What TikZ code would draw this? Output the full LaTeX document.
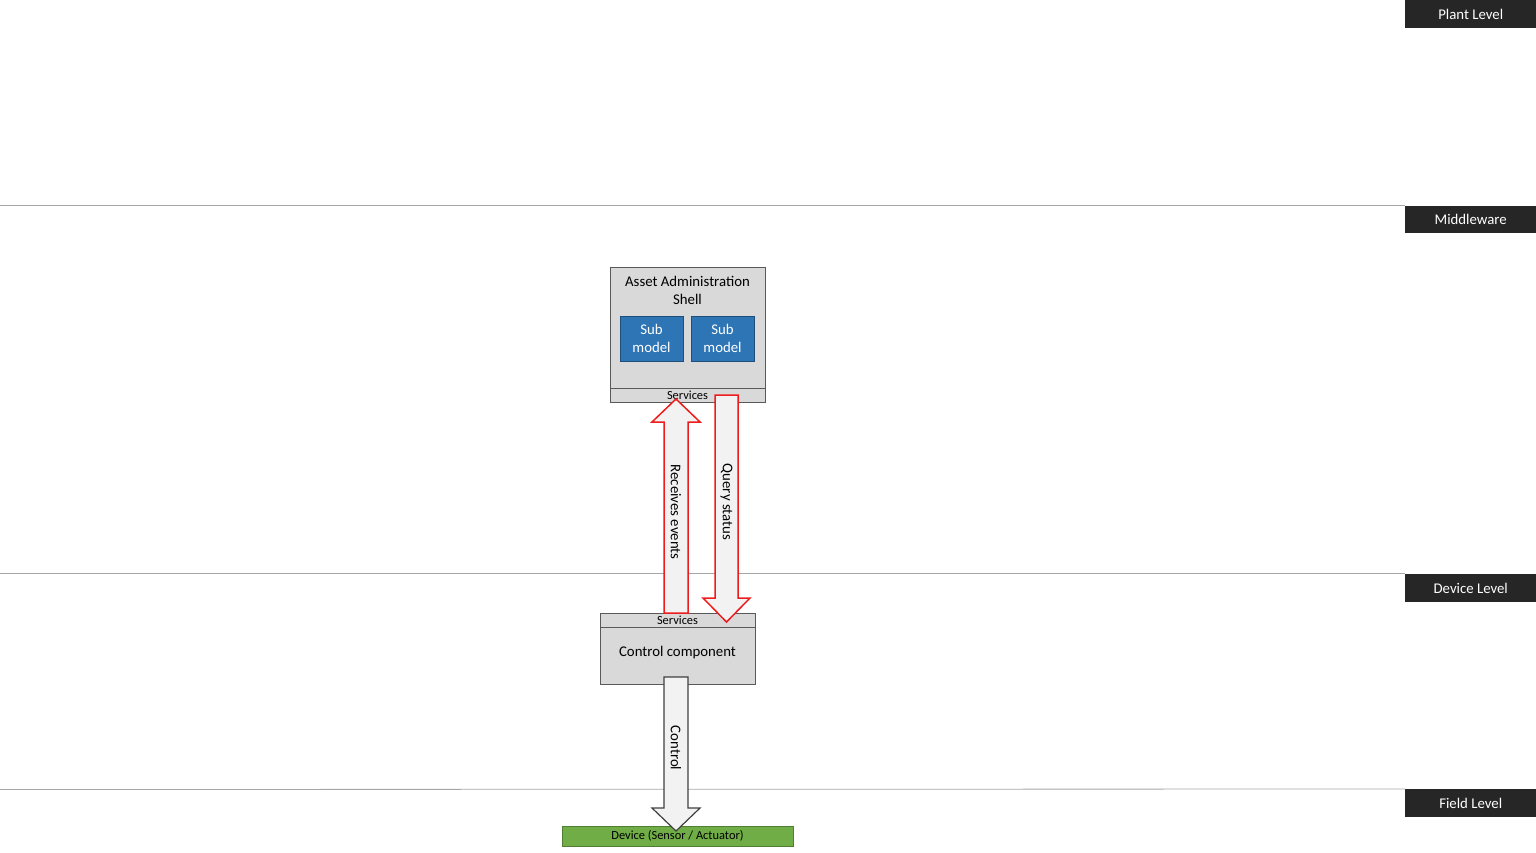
\documentclass[tikz,border=0pt]{standalone}
\usepackage{fontspec}
\setmainfont{Carlito}
\definecolor{lvl}{HTML}{262626}
\definecolor{sep}{HTML}{A6A6A6}
\definecolor{boxfill}{HTML}{D9D9D9}
\definecolor{boxline}{HTML}{595959}
\definecolor{subfill}{HTML}{2E75B6}
\definecolor{subline}{HTML}{1F4E79}
\definecolor{devfill}{HTML}{70AD47}
\definecolor{devline}{HTML}{507E32}
\definecolor{arrfill}{HTML}{F2F2F2}
\definecolor{arrred}{HTML}{EE1C1C}
\definecolor{arrgray}{HTML}{404040}
\tikzset{
  lvlbox/.style={fill=lvl, text=white, inner sep=0pt, minimum width=131pt, minimum height=27.5pt, font=\fontsize{14.8}{17}\selectfont},
  sepline/.style={draw=sep, line width=0.8pt},
  greybox/.style={draw=boxline, fill=boxfill, line width=1pt},
  subbox/.style={draw=subline, fill=subfill, text=white, line width=1pt, inner sep=0pt, minimum width=63pt, minimum height=45pt, align=center, font=\fontsize{14.8}{18}\selectfont},
  bigtext/.style={font=\fontsize{14.8}{18}\selectfont, align=center, inner sep=0pt},
  smalltext/.style={font=\fontsize{12.4}{14}\selectfont, inner sep=0pt},
  redarrow/.style={draw=arrred, fill=arrfill, line width=1.5pt, line join=miter},
  grayarrow/.style={draw=arrgray, fill=arrfill, line width=1.2pt, line join=miter},
  arrtext/.style={font=\fontsize{14.8}{18}\selectfont, rotate=-90, inner sep=0pt}
}
\begin{document}
\begin{tikzpicture}[x=1pt,y=-1pt]
\useasboundingbox (0,0) rectangle (1536,852);
% level labels
\node[lvlbox, anchor=north west] (plant) at (1405,0) {Plant Level};
\node[lvlbox, anchor=north west] (mw) at (1405,205.5) {Middleware};
\node[lvlbox, anchor=north west] (dev) at (1405,574) {Device Level};
\node[lvlbox, anchor=north west] (field) at (1405,789) {Field Level};
% separators
\coordinate (s1) at (0,205.5);
\coordinate (s2) at (0,573.5);
\coordinate (s3) at (0,789.5);
\draw[sepline] (s1) -- (mw.north west);
\draw[sepline] (s2) -- (1405,573.5);
\draw[sepline] (s3) -- (field.north west);
% AAS
\draw[greybox] (610,267) rectangle (765,402);
\draw[greybox] (610,388) rectangle (765,402);
\node[bigtext] (aas) at (687.5,290) {Asset Administration\\Shell};
\node[subbox] (sm1) at (651.5,338.5) {Sub\\model};
\node[subbox] (sm2) at (722.5,338.5) {Sub\\model};
\node[smalltext] (svc1) at (687.5,395.5) {Services};
% control component
\draw[greybox] (600,613) rectangle (755,684);
\draw[greybox] (600,613) rectangle (755,627);
\node[smalltext] (svc2) at (677.5,620.5) {Services};
\node[bigtext] (cc) at (677.5,652.5) {Control component};
% device
\node[draw=devline, fill=devfill, line width=1pt, minimum width=231pt, minimum height=20pt, inner sep=0pt, font=\fontsize{12.4}{14}\selectfont] (device) at (677.5,836) {Device (Sensor / Actuator)};
% arrows
\draw[redarrow] (664,613) -- (664,422) -- (652,422) -- (676,399) -- (700,422) -- (688,422) -- (688,613) -- cycle;
\node[arrtext] (recv) at (676,512) {Receives events};
\draw[redarrow] (715,395) -- (738,395) -- (738,598) -- (750,598) -- (726.5,622) -- (703,598) -- (715,598) -- cycle;
\node[arrtext] (query) at (726.5,502) {Query status};
\draw[grayarrow] (664,677) -- (688,677) -- (688,808) -- (700,808) -- (676,831) -- (652,808) -- (664,808) -- cycle;
\node[arrtext] (ctrl) at (676,748) {Control};
\end{tikzpicture}
\end{document}
